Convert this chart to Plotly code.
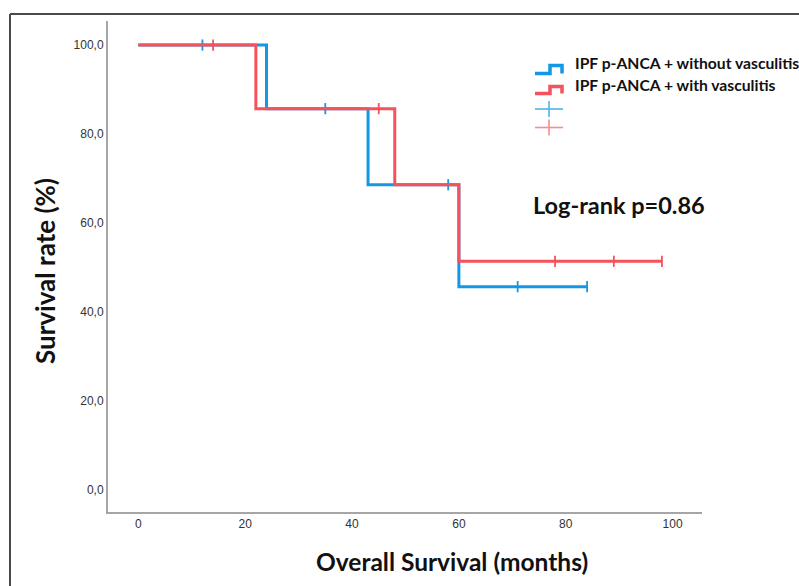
import plotly.graph_objects as go

# ---- data (months, survival %) ----
blue_name = "IPF p-ANCA + without vasculitis"
red_name = "IPF p-ANCA + with vasculitis"

blue_times = [0, 24, 43, 60, 84]
blue_surv = [100, 85.7, 68.6, 45.7, 45.7]
blue_censor = [12, 35, 58, 71, 84]

red_times = [0, 22, 48, 60, 98]
red_surv = [100, 85.7, 68.6, 51.4, 51.4]
red_censor = [14, 45, 78, 89, 98]

x_ticks = [0, 20, 40, 60, 80, 100]
y_ticks = [0, 20, 40, 60, 80, 100]
y_ticktext = ["0,0", "20,0", "40,0", "60,0", "80,0", "100,0"]

BLUE = "#1298e4"
RED = "#f6525b"
BLUE_L = "#4fb3ee"
RED_L = "#f98a90"

W, H = 799, 586
L, R, T, B = 108, 702, 21, 512


def step_at(times, surv, t):
    v = surv[0]
    for ti, si in zip(times, surv):
        if ti <= t:
            v = si
    return v


def px(xp):
    return (xp - L) / (R - L)


def py(yp):
    return (B - yp) / (B - T)


fig = go.Figure()
for times, surv, cens, col in [(blue_times, blue_surv, blue_censor, BLUE),
                               (red_times, red_surv, red_censor, RED)]:
    fig.add_trace(go.Scatter(x=times, y=surv, mode="lines",
                             line=dict(color=col, width=3, shape="hv"),
                             showlegend=False, hoverinfo="skip"))
    fig.add_trace(go.Scatter(x=cens, y=[step_at(times, surv, c) for c in cens],
                             mode="markers",
                             marker=dict(symbol="line-ns", size=8,
                                         line=dict(color=col, width=1.8)),
                             showlegend=False, hoverinfo="skip"))

shapes = []
# outer frame (left and top)
shapes.append(dict(type="line", xref="paper", yref="paper",
                   x0=px(10), x1=px(10), y0=py(14), y1=py(590),
                   line=dict(color="#4a4a4a", width=2)))
shapes.append(dict(type="line", xref="paper", yref="paper",
                   x0=px(10), x1=px(805), y0=py(14), y1=py(14),
                   line=dict(color="#4a4a4a", width=2)))


def step_symbol(y_low, y_high, col):
    xa, xb, xc = 535, 550, 562
    path = (f"M {px(xa)} {py(y_low)} L {px(xb)} {py(y_low)} L {px(xb)} {py(y_high)} "
            f"L {px(xc)} {py(y_high)} L {px(xc)} {py(y_low)}")
    return dict(type="path", xref="paper", yref="paper", path=path,
                line=dict(color=col, width=3.5))


shapes.append(step_symbol(73.5, 65.5, BLUE))
shapes.append(step_symbol(93.5, 86.5, RED))
for yc, col in [(109, BLUE_L), (127.5, RED_L)]:
    shapes.append(dict(type="line", xref="paper", yref="paper",
                       x0=px(535), x1=px(563), y0=py(yc), y1=py(yc),
                       line=dict(color=col, width=1.6)))
    shapes.append(dict(type="line", xref="paper", yref="paper",
                       x0=px(549), x1=px(549), y0=py(yc - 8), y1=py(yc + 8),
                       line=dict(color=col, width=1.6)))

bold_font = "Lato"
annotations = [
    dict(text="<b>" + blue_name + "</b>", xref="paper", yref="paper",
         x=px(573), y=py(63.5), xanchor="left", yanchor="middle", showarrow=False,
         font=dict(family=bold_font, size=15.7, color="#111")),
    dict(text="<b>" + red_name + "</b>", xref="paper", yref="paper",
         x=px(573), y=py(84.5), xanchor="left", yanchor="middle", showarrow=False,
         font=dict(family=bold_font, size=15.7, color="#111")),
    dict(text="<b>Log-rank p=0.86</b>", xref="paper", yref="paper",
         x=px(619), y=py(205), xanchor="center", yanchor="middle", showarrow=False,
         font=dict(family=bold_font, size=23.5, color="#111")),
    dict(text="<b>Overall Survival (months)</b>", xref="paper", yref="paper",
         x=px(452), y=py(561), xanchor="center", yanchor="middle", showarrow=False,
         font=dict(family=bold_font, size=24.5, color="#111")),
    dict(text="<b>Survival rate (%)</b>", xref="paper", yref="paper",
         x=px(45), y=py(271), xanchor="center", yanchor="middle", showarrow=False,
         textangle=-90, font=dict(family=bold_font, size=26, color="#111")),
]

fig.update_layout(
    width=W, height=H,
    margin=dict(l=L, r=W - R, t=T, b=H - B, pad=0),
    paper_bgcolor="white", plot_bgcolor="white",
    shapes=shapes, annotations=annotations,
    xaxis=dict(range=[-5.67, 105.5], tickvals=x_ticks, showgrid=False, zeroline=False,
               showline=True, linecolor="#a6a6a6", linewidth=2, ticks="",
               tickfont=dict(family="Liberation Sans", size=12, color="#333")),
    yaxis=dict(range=[-4.94, 105.4], tickvals=y_ticks, ticktext=y_ticktext,
               showgrid=False, zeroline=False,
               showline=True, linecolor="#a6a6a6", linewidth=2, ticks="",
               tickfont=dict(family="Liberation Sans", size=12, color="#333")),
)

fig.write_html("out.html")
